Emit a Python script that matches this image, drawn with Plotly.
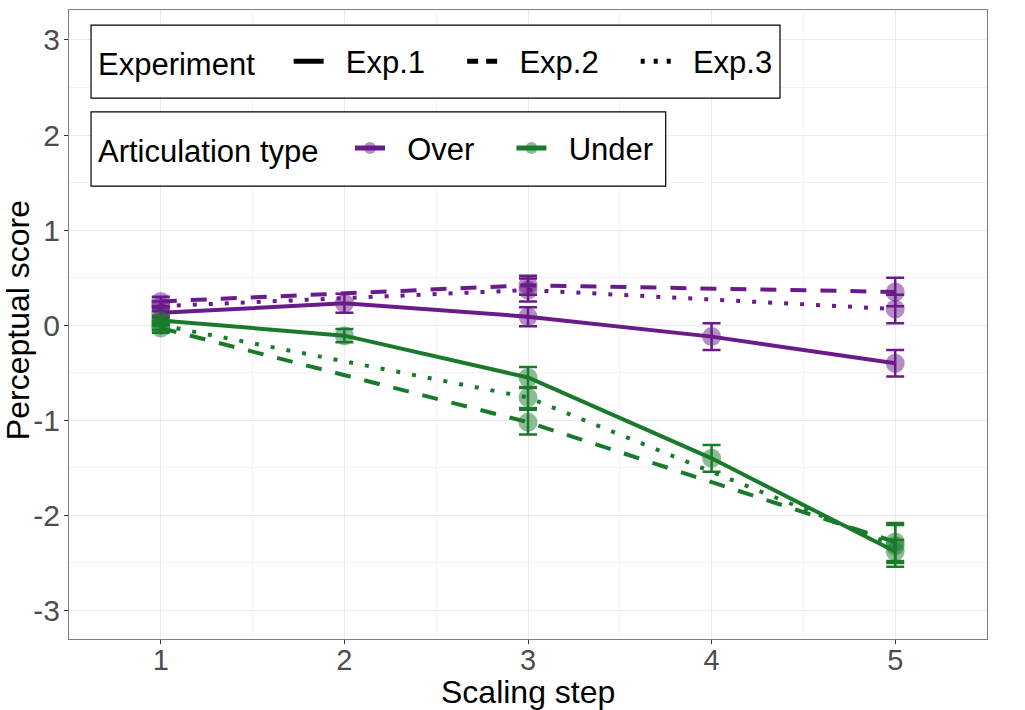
import plotly.graph_objects as go

# ---- data ----
steps_exp1 = [1, 2, 3, 4, 5]
steps_exp23 = [1, 3, 5]

over_exp1 = [0.13, 0.23, 0.09, -0.12, -0.40]
over_exp1_err = [0.05, 0.10, 0.10, 0.14, 0.14]
over_exp2 = [0.25, 0.42, 0.35]
over_exp2_err = [0.05, 0.10, 0.15]
over_exp3 = [0.20, 0.37, 0.17]
over_exp3_err = [0.05, 0.12, 0.15]

under_exp1 = [0.05, -0.11, -0.55, -1.40, -2.38]
under_exp1_err = [0.05, 0.07, 0.11, 0.14, 0.12]
under_exp2 = [-0.03, -1.02, -2.28]
under_exp2_err = [0.05, 0.13, 0.20]
under_exp3 = [0.00, -0.76, -2.32]
under_exp3_err = [0.05, 0.11, 0.22]

x_ticks = [1, 2, 3, 4, 5]
y_ticks = [-3, -2, -1, 0, 1, 2, 3]

PURPLE = "#6a1b8a"
GREEN = "#1a7a2b"
PURPLE_A = "rgba(106,27,138,0.5)"
GREEN_A = "rgba(26,122,43,0.5)"
DASHES = {"Exp.1": "solid", "Exp.2": "16px,14px", "Exp.3": "4px,12px"}
LEGEND_DASHES = {"Exp.1": "solid", "Exp.2": "11px,8px", "Exp.3": "4px,9px"}
FONT = "Liberation Sans"
NB = "\u00a0"
TH = "\u2009"

series = [
    ("Exp.1", steps_exp1, over_exp1, over_exp1_err, PURPLE, PURPLE_A),
    ("Exp.2", steps_exp23, over_exp2, over_exp2_err, PURPLE, PURPLE_A),
    ("Exp.3", steps_exp23, over_exp3, over_exp3_err, PURPLE, PURPLE_A),
    ("Exp.1", steps_exp1, under_exp1, under_exp1_err, GREEN, GREEN_A),
    ("Exp.2", steps_exp23, under_exp2, under_exp2_err, GREEN, GREEN_A),
    ("Exp.3", steps_exp23, under_exp3, under_exp3_err, GREEN, GREEN_A),
]

fig = go.Figure()
for exp, xs, ys, es, col, cola in series:
    fig.add_trace(go.Scatter(
        x=xs, y=ys, mode="lines+markers",
        line=dict(color=col, width=4, dash=DASHES[exp]),
        marker=dict(size=19, color=cola, line=dict(width=0)),
        error_y=dict(type="data", array=es, visible=True, color=col,
                     thickness=2.5, width=9),
        showlegend=False, hoverinfo="skip",
    ))

# legend 1: Experiment (line types)
for exp in ["Exp.1", "Exp.2", "Exp.3"]:
    fig.add_trace(go.Scatter(
        x=[None], y=[None], mode="lines", name=NB * 2 + exp + NB * 3 + TH,
        line=dict(color="black", width=4, dash=LEGEND_DASHES[exp]),
        legend="legend",
    ))
# legend 2: Articulation type
for name, col, cola in [("Over", PURPLE, PURPLE_A), ("Under", GREEN, GREEN_A)]:
    fig.add_trace(go.Scatter(
        x=[None], y=[None], mode="lines+markers", name=NB * 2 + name + NB * 3 + TH,
        line=dict(color=col, width=4),
        marker=dict(size=16, color=cola, line=dict(width=0)),
        legend="legend2",
    ))

legend_common = dict(
    orientation="h", xanchor="left", yanchor="middle",
    bgcolor="rgba(0,0,0,0)", borderwidth=0,
    font=dict(family=FONT, size=31, color="black"),
    itemsizing="constant",
)

box_style = dict(type="rect", xref="paper", yref="paper",
                 line=dict(color="black", width=1.2), fillcolor="white", layer="above")

fig.update_layout(
    width=1025, height=710,
    paper_bgcolor="white", plot_bgcolor="white",
    margin=dict(l=69, r=38, t=10, b=71),
    font=dict(family=FONT, color="black"),
    legend=dict(x=0.0294, y=0.918,
                title=dict(text="Experiment" + NB * 3, side="left",
                           font=dict(family=FONT, size=31, color="black")),
                **legend_common),
    legend2=dict(x=0.0294, y=0.780,
                 title=dict(text="Articulation type" + NB * 2 + TH, side="left",
                            font=dict(family=FONT, size=31, color="black")),
                 **legend_common),
    shapes=[
        dict(x0=0.024, x1=0.7745, y0=0.860, y1=0.976, **box_style),
        dict(x0=0.024, x1=0.650, y0=0.720, y1=0.838, **box_style),
    ],
    annotations=[
        dict(text="Scaling step", xref="paper", yref="paper", x=0.5, y=-0.0845,
             xanchor="center", yanchor="middle", showarrow=False,
             font=dict(family=FONT, size=32, color="black")),
        dict(text="Perceptual score", xref="paper", yref="paper", x=-0.0555, y=0.507,
             xanchor="center", yanchor="middle", showarrow=False, textangle=-90,
             font=dict(family=FONT, size=32, color="black")),
    ],
    xaxis=dict(
        range=[0.5, 5.5], tickvals=x_ticks, ticktext=[str(v) for v in x_ticks],
        showgrid=True, gridcolor="#ebebeb", gridwidth=1.2,
        minor=dict(dtick=0.5, tick0=0.5, showgrid=True, gridcolor="#f3f3f3", gridwidth=0.8),
        ticks="outside", ticklen=4, tickcolor="#333333", tickwidth=1,
        tickfont=dict(family=FONT, size=29, color="#4d4d4d"),
        ticklabelstandoff=-9,
        showline=True, linecolor="#7f7f7f", linewidth=1, mirror=True,
        zeroline=False, automargin=False,
    ),
    yaxis=dict(
        range=[-3.30, 3.315], tickvals=y_ticks, ticktext=[str(v) for v in y_ticks],
        showgrid=True, gridcolor="#ebebeb", gridwidth=1.2,
        minor=dict(dtick=0.5, tick0=0.5, showgrid=True, gridcolor="#f3f3f3", gridwidth=0.8),
        ticks="outside", ticklen=4, tickcolor="#333333", tickwidth=1,
        tickfont=dict(family=FONT, size=30, color="#4d4d4d"),
        ticklabelstandoff=-2,
        showline=True, linecolor="#7f7f7f", linewidth=1, mirror=True,
        zeroline=False, automargin=False,
    ),
)

fig.write_html("out.html",
               config={"displayModeBar": False},
               post_script="document.body.style.margin='0';document.body.style.overflow='hidden';")
